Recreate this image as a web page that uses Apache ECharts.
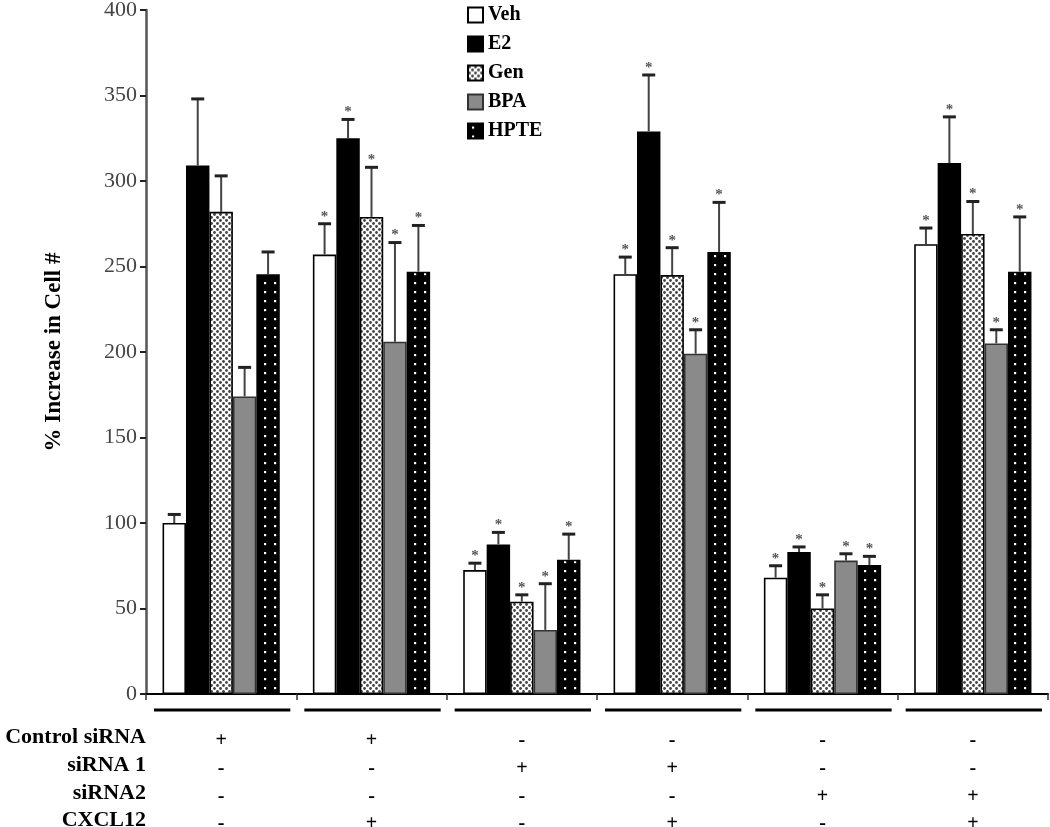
<!DOCTYPE html>
<html>
<head>
<meta charset="utf-8">
<script src="https://cdn.jsdelivr.net/npm/echarts@6/dist/echarts.min.js"></script>
<style>
html,body{margin:0;padding:0;background:#fff;}
#chart{width:1050px;height:827px;}
</style>
</head>
<body>
<div id="chart"></div>
<script>
// ---- data ----
const groups = ['Ctrl', 'Ctrl+CXCL12', 'si1', 'si1+CXCL12', 'si2', 'si2+CXCL12'];
const rowLabels = ['Control siRNA', 'siRNA 1', 'siRNA2', 'CXCL12'];
const controlSiRNA = ['+', '+', '-', '-', '-', '-'];
const siRNA1 = ['-', '-', '+', '+', '-', '-'];
const siRNA2 = ['-', '-', '-', '-', '+', '+'];
const cxcl12 = ['-', '+', '-', '+', '-', '+'];
const treatments = ['Veh', 'E2', 'Gen', 'BPA', 'HPTE'];
const veh = [100, 257, 72.5, 245.5, 68, 263];
const vehErr = [5, 18, 4, 10, 7, 9.5];
const e2 = [309, 325, 87.5, 329, 83, 310.5];
const e2Err = [39, 11, 7, 33, 3, 27];
const gen = [282, 279, 54, 245, 50, 269];
const genErr = [21, 29, 4, 16, 8, 19];
const bpa = [174, 206, 37.5, 199, 78, 205];
const bpaErr = [17, 58, 27, 14, 4, 8];
const hpte = [245.5, 247, 78.5, 258.5, 75.5, 247];
const hpteErr = [13, 27, 15, 29, 5, 32];
const significant = [0, 1, 1, 1, 1, 1];
const yTicks = [0, 50, 100, 150, 200, 250, 300, 350, 400];

const values = [veh, e2, gen, bpa, hpte];
const errors = [vehErr, e2Err, genErr, bpaErr, hpteErr];
const signRows = [controlSiRNA, siRNA1, siRNA2, cxcl12];

// ---- patterns ----
function genPattern() {
  const c = document.createElement('canvas');
  c.width = 6; c.height = 6;
  const g = c.getContext('2d');
  g.fillStyle = '#fff'; g.fillRect(0, 0, 6, 6);
  g.fillStyle = '#444';
  g.beginPath(); g.arc(1.5, 1.5, 1.4, 0, Math.PI * 2); g.fill();
  g.beginPath(); g.arc(4.5, 4.5, 1.4, 0, Math.PI * 2); g.fill();
  return c;
}
function hptePattern() {
  const c = document.createElement('canvas');
  c.width = 10; c.height = 9;
  const g = c.getContext('2d');
  g.fillStyle = '#000'; g.fillRect(0, 0, 10, 9);
  g.fillStyle = '#fff';
  g.fillRect(4, 3, 2.2, 2.2);
  return c;
}
const fills = [
  '#ffffff',
  '#000000',
  { image: genPattern(), repeat: 'repeat' },
  '#8a8a8a',
  { image: hptePattern(), repeat: 'repeat' }
];
const borders = ['#000', '#000', '#000', '#333', '#000'];

const GAP = 0.22;
const serif = "'Liberation Serif', 'DejaVu Serif', serif";

const chart = echarts.init(document.getElementById('chart'), null, { renderer: 'canvas' });

const series = [];
treatments.forEach((t, k) => {
  series.push({
    name: t,
    type: 'bar',
    data: values[k],
    barGap: '0%',
    barCategoryGap: (GAP * 100) + '%',
    itemStyle: { color: fills[k], borderColor: borders[k], borderWidth: 1.6 },
    emphasis: { disabled: true },
    z: 2
  });
});
treatments.forEach((t, k) => {
  series.push({
    name: t + ' err',
    type: 'custom',
    clip: false,
    silent: true,
    z: 3,
    encode: { x: 0, y: 1 },
    data: groups.map((g, i) => [i, values[k][i], errors[k][i], significant[i]]),
    renderItem: function (params, api) {
      const ci = api.value(0), v = api.value(1), e = api.value(2), s = api.value(3);
      const base = api.coord([ci, v]);
      const top = api.coord([ci, v + e]);
      const catW = api.size([1, 0])[0];
      const bw = catW * (1 - GAP) / treatments.length;
      const x = base[0] + (k - (treatments.length - 1) / 2) * bw;
      const children = [
        { type: 'line', shape: { x1: x, y1: base[1], x2: x, y2: top[1] },
          style: { stroke: '#444', lineWidth: 2 } },
        { type: 'line', shape: { x1: x - 6.5, y1: top[1], x2: x + 6.5, y2: top[1] },
          style: { stroke: '#222', lineWidth: 3 } }
      ];
      if (s) {
        children.push({ type: 'text', x: x, y: top[1] - 7,
          style: { text: '*', fill: '#555', fontSize: 15, fontFamily: serif,
                   fontWeight: 'bold', align: 'center', verticalAlign: 'middle' } });
      }
      return { type: 'group', children: children };
    }
  });
});
// group underlines below the axis
series.push({
  name: 'underline',
  type: 'custom',
  clip: false,
  silent: true,
  encode: { x: 0, y: 1 },
  data: groups.map((g, i) => [i, 0]),
  renderItem: function (params, api) {
    const p = api.coord([api.value(0), 0]);
    const w = api.size([1, 0])[0];
    return { type: 'line', shape: { x1: p[0] - w / 2 + 8, y1: p[1] + 16, x2: p[0] + w / 2 - 6, y2: p[1] + 16 },
             style: { stroke: '#000', lineWidth: 3 } };
  }
});

const rowOffsets = [35, 63, 91, 118];
const xAxes = [{
  type: 'category',
  data: groups,
  position: 'bottom',
  axisLine: { lineStyle: { color: '#000', width: 2 } },
  axisTick: { show: true, interval: 0, length: 6, lineStyle: { color: '#333', width: 1.5 } },
  axisLabel: { show: false }
}];
signRows.forEach((row, r) => {
  xAxes.push({
    type: 'category',
    data: groups,
    position: 'bottom',
    offset: rowOffsets[r] + 2,
    axisLine: { show: false },
    axisTick: { show: false },
    axisLabel: {
      show: true, interval: 0, margin: 0,
      formatter: function (v, idx) { return row[idx]; },
      fontFamily: serif, fontWeight: 'bold', fontSize: 20, color: '#000'
    }
  });
});

const graphics = rowLabels.map((lab, r) => ({
  type: 'text',
  right: 1050 - 146,
  top: 694 + rowOffsets[r] - 3,
  style: { text: lab, fontFamily: serif, fontWeight: 'bold', fontSize: 22, fill: '#000', align: 'right' }
}));

chart.setOption({
  animation: false,
  backgroundColor: '#fff',
  grid: { left: 146, right: 2, top: 10, bottom: 133, containLabel: false, outerBoundsMode: 'none' },
  legend: {
    data: treatments,
    orient: 'vertical',
    left: 462,
    top: 0,
    itemWidth: 15,
    itemHeight: 15,
    itemGap: 9,
    icon: 'rect',
    textStyle: { fontFamily: serif, fontWeight: 'bold', fontSize: 20, color: '#000' },
    selectedMode: false
  },
  xAxis: xAxes,
  yAxis: {
    type: 'value',
    min: 0, max: 400, interval: 50,
    name: '% Increase in Cell #',
    nameLocation: 'middle',
    nameGap: 80,
    nameTextStyle: { fontFamily: serif, fontWeight: 'bold', fontSize: 23, color: '#000' },
    axisLine: { show: true, lineStyle: { color: '#555', width: 2.5 } },
    axisTick: { show: true, length: 6, lineStyle: { color: '#222', width: 2 } },
    axisLabel: { fontFamily: serif, fontSize: 22, color: '#444', margin: 9,
                 formatter: function (v) { return yTicks.indexOf(v) >= 0 ? String(v) : ''; } },
    splitLine: { show: false }
  },
  graphic: graphics,
  series: series
});
</script>
</body>
</html>
